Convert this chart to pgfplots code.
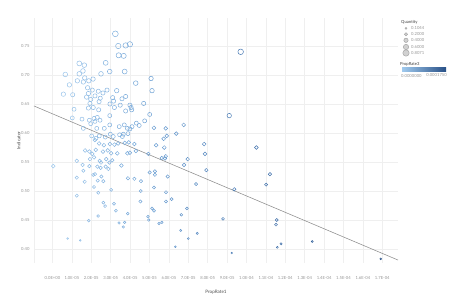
\documentclass[border=0pt]{standalone}
\usepackage{pgfplots}
\pgfplotsset{compat=1.18}
\usepackage{pgfplotstable}
\usepackage{fontspec}
\setmainfont{Lato}
\definecolor{tick}{RGB}{150,150,150}
\definecolor{gridc}{RGB}{239,239,239}
\definecolor{trend}{RGB}{140,140,140}

\pgfplotstableread{
x y s
3.24 0.771 2.6
3.39 0.750 2.4
3.77 0.751 2.4
3.99 0.753 2.4
3.41 0.734 2.3
3.67 0.733 2.3
1.38 0.720 2.2
1.64 0.717 2.1
2.74 0.721 2.2
0.66 0.701 2.1
1.38 0.702 2.1
1.57 0.707 2.1
2.50 0.702 2.1
2.95 0.706 2.1
3.72 0.706 2.2
0.87 0.683 2.0
1.28 0.690 2.0
1.59 0.688 2.0
1.66 0.695 2.0
1.87 0.690 2.0
2.09 0.693 2.0
4.29 0.686 2.1
5.08 0.694 2.0
5.13 0.673 2.0
0.56 0.667 2.0
1.04 0.666 1.9
1.81 0.678 2.0
2.05 0.674 1.9
1.85 0.668 2.0
1.76 0.662 2.0
1.97 0.658 1.9
2.19 0.664 1.9
2.36 0.672 1.9
2.60 0.669 1.9
2.81 0.674 1.9
3.31 0.673 2.0
2.46 0.660 1.9
3.10 0.661 1.9
3.15 0.655 1.9
3.58 0.659 1.9
3.77 0.663 1.9
1.93 0.651 1.9
2.40 0.654 1.9
4.70 0.651 1.9
1.11 0.641 1.8
1.85 0.643 1.9
2.10 0.644 1.9
2.38 0.640 1.9
2.96 0.650 1.9
3.19 0.644 1.9
3.49 0.648 1.9
3.77 0.638 1.9
3.99 0.648 1.9
4.05 0.644 1.9
4.08 0.640 1.9
1.02 0.626 1.8
1.52 0.624 1.8
1.90 0.622 1.8
2.14 0.625 1.9
2.31 0.627 1.8
2.95 0.630 1.8
5.01 0.632 1.8
4.75 0.621 1.8
4.32 0.617 1.8
4.47 0.613 1.8
1.59 0.608 1.8
1.97 0.616 1.8
2.19 0.620 1.8
2.45 0.622 1.8
2.28 0.608 1.8
2.67 0.608 1.8
2.95 0.614 1.8
3.44 0.611 1.8
3.70 0.614 1.8
3.86 0.608 1.8
3.99 0.607 1.8
4.10 0.611 1.8
5.23 0.609 1.7
5.84 0.608 1.7
6.76 0.614 1.7
6.38 0.599 1.7
5.89 0.595 1.7
5.73 0.590 1.7
2.02 0.595 1.8
2.24 0.591 1.8
2.41 0.595 1.8
2.72 0.593 1.8
2.98 0.598 1.8
3.13 0.594 1.8
3.46 0.597 1.8
3.65 0.598 1.8
3.89 0.599 1.8
3.60 0.594 1.8
2.18 0.588 1.7
2.40 0.582 1.7
2.65 0.579 1.7
2.96 0.581 1.7
3.19 0.580 1.7
3.38 0.582 1.7
3.72 0.583 1.7
3.93 0.584 1.7
4.22 0.581 1.7
5.34 0.579 1.7
5.76 0.575 1.7
1.68 0.570 1.7
1.90 0.568 1.7
2.05 0.564 1.7
2.23 0.571 1.7
2.60 0.568 1.7
2.85 0.570 1.7
3.02 0.565 1.7
3.34 0.565 1.7
3.86 0.565 1.7
3.99 0.566 1.7
4.30 0.569 1.7
4.94 0.564 1.6
5.84 0.560 1.6
5.63 0.557 1.6
5.80 0.556 1.6
1.25 0.552 1.6
1.55 0.545 1.6
1.93 0.555 1.6
2.14 0.558 1.6
2.43 0.552 1.6
2.50 0.549 1.6
2.77 0.555 1.6
2.93 0.549 1.6
3.08 0.553 1.6
3.55 0.544 1.6
6.97 0.555 1.6
6.78 0.545 1.6
0.04 0.543 1.7
1.90 0.543 1.6
2.31 0.542 1.6
2.48 0.540 1.6
2.74 0.542 1.6
2.88 0.538 1.6
1.59 0.535 1.5
2.19 0.529 1.5
2.10 0.528 1.5
2.52 0.525 1.5
5.01 0.532 1.5
5.28 0.534 1.5
5.28 0.528 1.5
5.94 0.525 1.5
3.89 0.522 1.5
4.22 0.521 1.5
4.56 0.517 1.5
1.25 0.523 1.5
1.66 0.516 1.5
2.33 0.518 1.5
2.62 0.517 1.5
2.14 0.507 1.4
5.23 0.506 1.4
7.40 0.512 1.4
3.02 0.502 1.4
4.55 0.500 1.4
5.85 0.498 1.4
2.36 0.497 1.4
1.25 0.492 1.4
6.14 0.486 1.4
5.85 0.482 1.4
4.53 0.482 1.4
2.62 0.480 1.3
3.17 0.478 1.3
2.71 0.474 1.3
5.13 0.470 1.3
5.23 0.466 1.3
6.93 0.470 1.3
3.27 0.466 1.3
3.88 0.461 1.2
6.64 0.459 1.2
2.35 0.457 1.2
4.92 0.456 1.2
4.96 0.450 1.2
5.64 0.446 1.1
5.49 0.444 1.1
1.87 0.449 1.2
3.43 0.445 1.1
3.72 0.446 1.1
3.65 0.438 1.1
6.61 0.432 1.0
7.46 0.427 1.0
0.78 0.418 0.8
1.43 0.415 0.8
7.00 0.418 0.9
6.33 0.404 0.8
9.70 0.740 2.5
9.11 0.630 2.0
7.82 0.581 1.7
7.86 0.564 1.7
7.93 0.536 1.5
10.51 0.575 1.7
11.21 0.529 1.5
11.01 0.511 1.4
9.37 0.503 1.5
8.79 0.452 1.3
11.56 0.450 1.3
11.52 0.442 1.3
11.78 0.409 1.0
11.59 0.403 0.9
13.39 0.413 0.9
9.24 0.393 0.7
16.92 0.383 0.8
}\pts

\begin{document}
\begin{tikzpicture}[x=1bp,y=1bp]
\useasboundingbox (0,0) rectangle (461,303);
\begin{axis}[
  at={(34bp,40bp)}, anchor=south west,
  scale only axis, width=364bp, height=245bp,
  xmin=-0.954, xmax=17.81, ymin=0.3759, ymax=0.7983,
  axis line style={draw=none},
  tick style={draw=none},
  grid=major, major grid style={gridc, line width=0.5pt},
  xtick={0,1,...,17},
  xticklabels={0.0E+00,1.0E-05,2.0E-05,3.0E-05,4.0E-05,5.0E-05,6.0E-05,7.0E-05,8.0E-05,9.0E-05,1.0E-04,1.1E-04,1.2E-04,1.3E-04,1.4E-04,1.5E-04,1.6E-04,1.7E-04},
  ytick={0.40,0.45,0.50,0.55,0.60,0.65,0.70,0.75},
  yticklabel style={/pgf/number format/fixed, /pgf/number format/fixed zerofill, /pgf/number format/precision=2},
  /pgf/number format/assume math mode=true,
  ticklabel style={font=\fontsize{4.2}{5}\selectfont, text=tick},
  xticklabel style={yshift=-10bp},
  yticklabel style={xshift=-1bp},
  xlabel={PropRate1}, ylabel={Indicator},
  label style={font=\fontsize{4.6}{5.5}\selectfont, text=black!70},
  xlabel style={at={(axis description cs:0.5,0)}, anchor=north, yshift=-24bp},
  ylabel style={at={(axis description cs:0,0.5)}, anchor=south, xshift=0bp, yshift=10bp},
  colormap={tb}{rgb255(0cm)=(160,202,238) rgb255(5cm)=(108,160,212) rgb255(10cm)=(66,116,176) rgb255(17cm)=(40,80,135)},
  point meta min=0, point meta max=17,
  clip=false,
]
\draw[gridc, line width=0.5pt] (rel axis cs:0,0) -- (rel axis cs:0,1);
\addplot[trend, line width=0.55pt, no marks] coordinates {(-0.954,0.6466) (17.81,0.381)};
\addplot[scatter, only marks, mark=o, line width=0.5pt,
  point meta=x,
  scatter/use mapped color={draw=mapped color, fill=none},
  visualization depends on={\thisrow{s} \as \msize},
  scatter/@pre marker code/.append style={/tikz/mark size={1.12*\msize}}]
  table[x=x, y=y] {\pts};
\end{axis}
% legends
\begin{scope}[font=\fontsize{4.2}{5}\selectfont]
\node[anchor=west, text=black!75, inner sep=0] at (401,280.7) {Quantity};
\foreach \yy/\rr/\lab in {274.7/1.0/0.1044, 268.7/1.6/0.2000, 262.7/2.2/0.4000, 256/2.7/0.6000, 250/3.2/0.8071}{
  \filldraw[fill=black!18, draw=black!40, line width=0.4pt] (406,\yy) circle (\rr);
  \node[anchor=west, text=tick, inner sep=0] at (411,\yy) {\lab};
}
\node[anchor=west, text=black!75, inner sep=0] at (400,238.7) {PropRate3};
\shade[left color={rgb,255:red,160;green,202;blue,238}, right color={rgb,255:red,40;green,80;blue,135}] (402,231.5) rectangle (446,236);
\node[anchor=west, text=tick, inner sep=0] at (401,227.5) {0.0000000};
\node[anchor=east, text=tick, inner sep=0] at (447,227.5) {0.0001750};
\end{scope}
\end{tikzpicture}
\end{document}
